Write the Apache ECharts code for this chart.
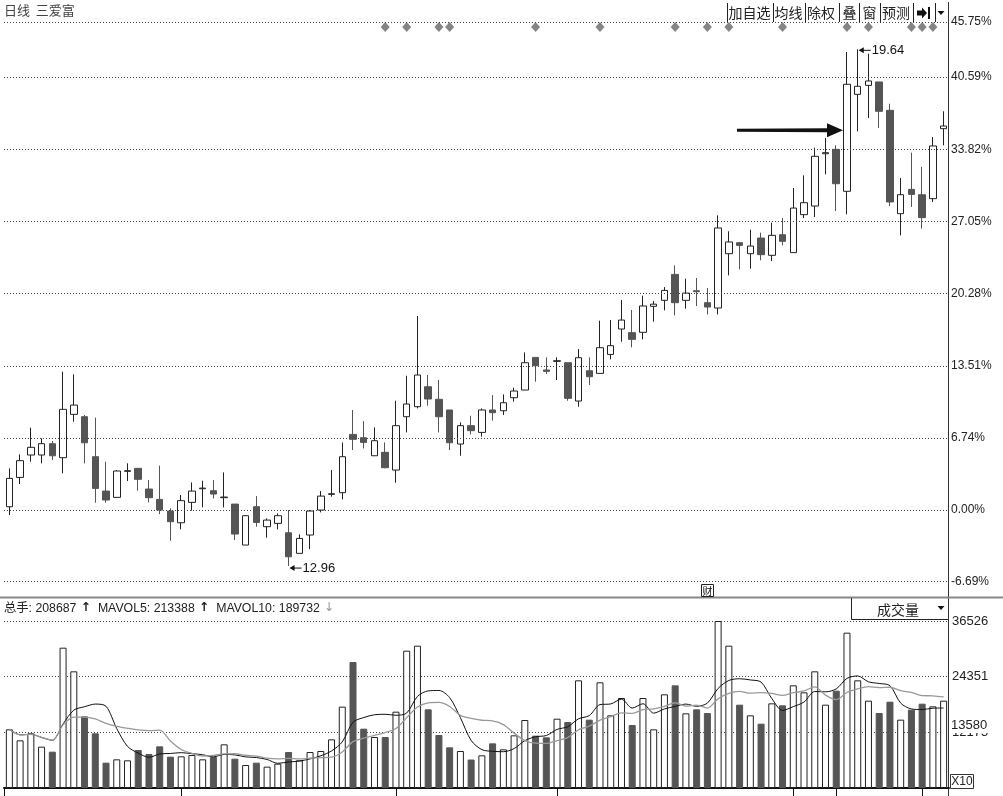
<!DOCTYPE html>
<html>
<head>
<meta charset="utf-8">
<title>日线 三爱富</title>
<script src="https://cdn.jsdelivr.net/npm/echarts@6/dist/echarts.min.js"></script>
<style>
  html, body { margin: 0; padding: 0; background: #fff; }
  #main { width: 1003px; height: 796px; }
</style>
</head>
<body>
<div id="main"></div>
<script>
// 日K线，按涨跌幅(%)读取：[开, 收, 低, 高]
const kline = [
  [0.31, 2.97, -0.47, 3.91], [3.06, 4.63, 2.44, 5.22], [5.16, 5.88, 4.53, 7.72], [5.16, 6.22, 4.38, 6.72],
  [6.22, 5.09, 4.69, 6.47], [4.91, 9.44, 3.44, 12.97], [8.97, 9.84, 8.28, 12.72], [8.75, 6.31, 4.38, 8.91],
  [5.00, 2.03, 0.69, 8.66], [1.78, 0.94, 0.69, 4.53], [1.19, 3.66, 1.16, 3.75], [3.63, 3.69, 2.72, 4.38],
  [3.91, 2.88, 1.81, 3.91], [1.97, 1.16, 0.72, 2.81], [1.00, 0.00, -0.38, 4.16], [-0.09, -1.09, -2.88, 0.16],
  [-1.19, 0.88, -1.81, 1.41], [0.72, 1.78, -0.06, 2.59], [2.00, 2.06, 0.25, 2.75], [1.81, 1.50, 1.09, 2.81],
  [1.16, 1.22, 0.25, 3.53], [0.56, -2.25, -2.81, 0.56], [-3.28, -0.53, -3.28, -0.47], [0.31, -1.16, -1.56, 1.31],
  [-1.56, -0.94, -2.59, -0.78], [-1.25, -0.53, -1.81, -0.31], [-2.13, -4.38, -5.25, 0.00], [-4.06, -2.66, -4.06, -2.28],
  [-2.34, -0.09, -3.66, 0.00], [0.00, 1.31, -0.22, 1.78], [1.47, 1.53, 1.25, 3.75], [1.63, 5.00, 1.00, 6.34],
  [7.09, 6.63, 5.63, 9.38], [6.78, 6.34, 5.78, 8.34], [5.09, 6.50, 5.09, 7.75], [5.41, 3.97, 3.91, 6.34],
  [3.75, 7.91, 2.56, 10.25], [8.75, 9.94, 7.28, 12.59], [9.69, 12.66, 9.53, 18.19], [11.56, 10.41, 9.78, 12.66],
  [10.38, 8.75, 7.28, 12.19], [9.38, 6.31, 5.63, 9.38], [6.19, 7.91, 5.09, 8.22], [7.91, 7.44, 7.09, 8.84],
  [7.28, 9.38, 6.88, 9.53], [9.38, 9.13, 8.38, 10.78], [9.31, 10.06, 8.91, 10.84], [10.53, 11.16, 10.16, 11.47],
  [11.25, 13.81, 11.25, 14.78], [14.31, 13.53, 12.03, 14.31], [13.13, 13.00, 12.75, 14.31], [13.94, 14.00, 12.19, 14.31],
  [13.81, 10.47, 10.25, 13.81], [10.22, 14.28, 9.69, 15.09], [13.06, 12.50, 11.72, 14.31], [12.81, 15.22, 12.81, 17.75],
  [14.59, 15.41, 14.13, 17.81], [16.97, 17.81, 15.78, 19.70], [16.63, 16.00, 15.25, 18.75], [16.66, 19.13, 16.00, 20.10],
  [19.10, 19.30, 17.66, 19.60], [19.66, 20.59, 18.72, 20.90], [22.09, 19.44, 18.25, 22.94], [19.66, 20.34, 18.88, 21.69],
  [20.56, 20.47, 19.13, 21.75], [19.44, 19.03, 18.34, 20.81], [18.94, 26.44, 18.34, 27.63], [24.03, 25.13, 22.00, 26.13],
  [25.06, 24.81, 22.56, 25.13], [24.03, 24.75, 22.63, 26.28], [25.50, 23.94, 23.41, 26.00], [23.88, 25.75, 23.34, 26.94],
  [25.81, 25.19, 24.81, 27.38], [24.13, 28.31, 24.13, 30.19], [27.69, 28.81, 27.38, 31.38], [28.50, 33.16, 27.47, 33.97],
  [33.40, 33.50, 31.47, 34.88], [33.81, 30.59, 28.03, 34.19], [29.88, 39.91, 27.72, 42.94], [38.97, 39.72, 35.50, 43.19],
  [39.81, 40.22, 36.75, 42.78], [40.13, 37.38, 35.81, 40.13], [37.47, 28.88, 28.50, 38.09], [27.78, 29.56, 25.75, 31.13],
  [30.06, 29.59, 28.41, 33.50], [29.56, 27.41, 26.38, 32.16], [29.19, 34.13, 28.88, 34.97], [35.75, 36.00, 34.19, 37.38]
]

// 成交量 (X10 手)
const volumes = [
  12830, 10425, 11956, 9040, 7946, 30691, 25515, 15674, 11956, 5540,
  6269, 6051, 8311, 7436, 9113, 6853, 6926, 7217, 6269, 6780,
  9550, 6415, 5030, 5540, 4666, 5322, 7873, 6051, 7873, 8092,
  10643, 17788, 27556, 12976, 11154, 11154, 16694, 30035, 31128, 17204,
  11591, 8894, 8092, 6230, 7144, 9769, 8456, 11518, 14872, 11445,
  11081, 15163, 14434, 23547, 14945, 23109, 15892, 19683, 13778, 19683,
  12830, 20485, 22453, 16330, 17204, 16403, 36526, 31128, 18225, 15892,
  14070, 18517, 18079, 22453, 20922, 25515, 18225, 21287, 33972, 23547,
  19100, 16403, 18881, 14945, 17132, 18444, 17861, 19100
]

const categories = kline.map((_, i) => i)

// 右侧涨跌幅刻度
const priceTicks = [45.75, 40.59, 33.82, 27.05, 20.28, 13.51, 6.74, 0.00, -6.69]
const priceMin = -8.15
const priceMax = 45.75
const volMax = 36526
const volFloatLabel = 13580

// 信息地雷所在K线
const mineIndex = [35, 37, 40, 41, 49, 55, 62, 65, 67, 72, 78, 80, 84, 85, 86]
const mineRow = 45.28
// 底部分隔刻度
const periodTicks = [16, 36, 51, 73, 77, 85]

const lowIndex = 26, lowLabel = '12.96'
const highIndex = 79, highLabel = '19.64'
const arrowIndex = 78, arrowLevel = 35.6

const headerText = {
  total: '208687',
  ma5: '213388',
  ma10: '189732'
}

function movingAvg(n) {
  return volumes.map((v, i) => {
    const s = volumes.slice(Math.max(0, i - n + 1), i + 1)
    return Math.round(s.reduce((a, b) => a + b, 0) / s.length)
  })
}

const numFont = '"Liberation Sans", Arial, sans-serif'
const cjkFont = '"Noto Sans CJK SC", sans-serif'
const dotted = { color: '#444', type: [1, 2], width: 1 }

const chart = echarts.init(document.getElementById('main'))

const option = {
  animation: false,
  backgroundColor: '#fff',
  grid: [
    { left: 4, right: 54, top: 22, height: 575 },
    { left: 4, right: 54, top: 621, height: 167 }
  ],
  xAxis: [
    {
      type: 'category', gridIndex: 0, data: categories, boundaryGap: true,
      axisLine: { show: false }, axisTick: { show: false }, axisLabel: { show: false }, splitLine: { show: false }
    },
    {
      type: 'category', gridIndex: 1, data: categories, boundaryGap: true,
      axisLine: { show: true, lineStyle: { color: '#111', width: 2 } },
      axisTick: {
        show: true, alignWithLabel: true, length: 8, lineStyle: { color: '#111' },
        interval: (i) => periodTicks.includes(i)
      },
      axisLabel: { show: false }, splitLine: { show: false }
    }
  ],
  yAxis: [
    {
      type: 'value', gridIndex: 0, min: priceMin, max: priceMax, position: 'right',
      axisLine: { show: false }, axisTick: { show: false }, axisLabel: { show: false }, splitLine: { show: false }
    },
    {
      type: 'value', gridIndex: 1, min: 0, max: volMax, interval: volMax / 3, position: 'right',
      axisLine: { show: false }, axisTick: { show: false },
      splitLine: { show: true, lineStyle: dotted },
      axisLabel: {
        margin: 3, fontSize: 13, color: '#222', fontFamily: numFont,
        showMaxLabel: true, showMinLabel: false,
        formatter: v => String(Math.round(v))
      }
    }
  ],
  series: [
    {
      name: 'K线', type: 'candlestick', xAxisIndex: 0, yAxisIndex: 0,
      data: kline, barWidth: 7,
      itemStyle: { color: '#fff', color0: '#555', borderColor: '#222', borderColor0: '#555', borderWidth: 1 },
      markLine: {
        silent: true, symbol: 'none', animation: false,
        lineStyle: dotted,
        label: {
          position: 'end', distance: 2, color: '#222', fontSize: 12, fontFamily: numFont,
          formatter: p => p.value.toFixed(2) + '%'
        },
        data: priceTicks.map(v => ({ yAxis: v }))
      }
    },
    {
      name: '地雷', type: 'scatter', xAxisIndex: 0, yAxisIndex: 0,
      symbol: 'diamond', symbolSize: [9, 10],
      itemStyle: { color: '#666' },
      data: mineIndex.map(i => [i, mineRow])
    },
    {
      name: '成交量', type: 'bar', xAxisIndex: 1, yAxisIndex: 1, barWidth: 7,
      data: volumes.map((v, i) => {
        const up = kline[i][1] >= kline[i][0]
        return {
          value: v,
          itemStyle: up
            ? { color: '#fff', borderColor: '#222', borderWidth: 1 }
            : { color: '#555', borderColor: '#555', borderWidth: 1 }
        }
      })
    },
    {
      name: 'MAVOL5', type: 'line', xAxisIndex: 1, yAxisIndex: 1,
      data: movingAvg(5), symbol: 'none', smooth: 0.3,
      lineStyle: { color: '#111', width: 1 }
    },
    {
      name: 'MAVOL10', type: 'line', xAxisIndex: 1, yAxisIndex: 1,
      data: movingAvg(10), symbol: 'none', smooth: 0.3,
      lineStyle: { color: '#999', width: 1.3 }
    }
  ]
}

chart.setOption(option)

// 顶部工具栏
const toolSeps = [727, 773, 805, 839, 859, 880, 913, 935]
const toolTexts = [['加自选', 749.5], ['均线', 788.5], ['除权', 821], ['叠', 849.5], ['窗', 869.5], ['预测', 896]]

const graphics = []
graphics.push({
  type: 'text', left: 4, top: 4,
  style: { text: '日线  三爱富', fontSize: 13, fill: '#444', fontFamily: cjkFont }
})
toolSeps.forEach(x => graphics.push({
  type: 'line', shape: { x1: x + 0.5, y1: 3, x2: x + 0.5, y2: 22 }, style: { stroke: '#222', lineWidth: 1 }
}))
toolTexts.forEach(([t, x]) => graphics.push({
  type: 'text', x: x, y: 13,
  style: { text: t, fontSize: 14, fill: '#222', fontFamily: cjkFont, align: 'center', verticalAlign: 'middle' }
}))
// 跳转图标和下拉
graphics.push({
  type: 'polygon',
  shape: { points: [[917, 10.5], [922, 10.5], [922, 7.5], [927, 13], [922, 18.5], [922, 15.5], [917, 15.5]] },
  style: { fill: '#111' }
})
graphics.push({ type: 'rect', shape: { x: 928, y: 7, width: 2, height: 12 }, style: { fill: '#111' } })
graphics.push({ type: 'polygon', shape: { points: [[937.5, 11], [944.5, 11], [941, 15]] }, style: { fill: '#111' } })

// 分隔线
graphics.push({ type: 'line', shape: { x1: 948.5, y1: 2, x2: 948.5, y2: 796 }, style: { stroke: '#333', lineWidth: 1 } })
graphics.push({ type: 'line', shape: { x1: 0, y1: 597.5, x2: 1003, y2: 597.5 }, style: { stroke: '#888', lineWidth: 2 } })
graphics.push({ type: 'line', shape: { x1: 4.5, y1: 788, x2: 4.5, y2: 796 }, style: { stroke: '#111', lineWidth: 1 } })

// 财 图标
graphics.push({ type: 'rect', shape: { x: 701.5, y: 584.5, width: 12, height: 12 }, style: { fill: '#fff', stroke: '#222', lineWidth: 1 } })
graphics.push({
  type: 'text', x: 707.5, y: 591,
  style: { text: '财', fontSize: 10, fill: '#111', fontFamily: cjkFont, align: 'center', verticalAlign: 'middle' }
})

// 成交量标题
graphics.push({
  type: 'text', left: 4, top: 602,
  style: {
    text: '{a|总手: ' + headerText.total + '}{u| ↑}{a|  MAVOL5: ' + headerText.ma5 + '}{u| ↑}{a|  MAVOL10: ' + headerText.ma10 + '}{d| ↓}',
    rich: {
      a: { fontSize: 12.3, fill: '#222', fontFamily: numFont + ', ' + cjkFont },
      u: { fontSize: 12.3, fill: '#222', fontWeight: 'bold', fontFamily: '"DejaVu Sans", sans-serif' },
      d: { fontSize: 12.3, fill: '#999', fontFamily: '"DejaVu Sans", sans-serif' }
    }
  }
})
graphics.push({ type: 'line', shape: { x1: 851.5, y1: 598, x2: 851.5, y2: 619.5 }, style: { stroke: '#222', lineWidth: 1 } })
graphics.push({ type: 'line', shape: { x1: 851.5, y1: 619.5, x2: 948, y2: 619.5 }, style: { stroke: '#222', lineWidth: 1 } })
graphics.push({
  type: 'text', x: 898, y: 610,
  style: { text: '成交量', fontSize: 14, fill: '#222', fontFamily: cjkFont, align: 'center', verticalAlign: 'middle' }
})
graphics.push({ type: 'polygon', shape: { points: [[937.5, 606], [944.5, 606], [941, 610]] }, style: { fill: '#111' } })

// 浮动量值标签 (盖住下方刻度)
const pFloat = chart.convertToPixel({ xAxisIndex: 1, yAxisIndex: 1 }, [0, volFloatLabel])
graphics.push({
  type: 'text', x: 951, y: pFloat[1], z: 100,
  style: {
    text: String(volFloatLabel), fontSize: 13, fill: '#222', fontFamily: numFont, verticalAlign: 'middle',
    backgroundColor: '#fff', padding: [1, 3, 0, 0]
  }
})

// X10
graphics.push({ type: 'rect', shape: { x: 950.5, y: 774.5, width: 23, height: 14 }, style: { fill: '#fff', stroke: '#333', lineWidth: 1 } })
graphics.push({
  type: 'text', x: 962, y: 782,
  style: { text: 'X10', fontSize: 12, fill: '#222', fontFamily: numFont, align: 'center', verticalAlign: 'middle' }
})

// 最低、最高标注
const pLow = chart.convertToPixel({ xAxisIndex: 0, yAxisIndex: 0 }, [lowIndex, kline[lowIndex][2]])
const ly = pLow[1] + 2
graphics.push({ type: 'line', shape: { x1: pLow[0] + 2, y1: ly, x2: pLow[0] + 13, y2: ly }, style: { stroke: '#111', lineWidth: 1 } })
graphics.push({ type: 'polygon', shape: { points: [[pLow[0] + 1, ly], [pLow[0] + 6, ly - 3], [pLow[0] + 6, ly + 3]] }, style: { fill: '#111' } })
graphics.push({
  type: 'text', x: pLow[0] + 14, y: ly,
  style: { text: lowLabel, fontSize: 13, fill: '#111', fontFamily: numFont, verticalAlign: 'middle' }
})

const pHigh = chart.convertToPixel({ xAxisIndex: 0, yAxisIndex: 0 }, [highIndex, kline[highIndex][3]])
const hy = pHigh[1] + 1
graphics.push({ type: 'line', shape: { x1: pHigh[0] + 2, y1: hy, x2: pHigh[0] + 13, y2: hy }, style: { stroke: '#111', lineWidth: 1 } })
graphics.push({ type: 'polygon', shape: { points: [[pHigh[0] + 1, hy], [pHigh[0] + 6, hy - 3], [pHigh[0] + 6, hy + 3]] }, style: { fill: '#111' } })
graphics.push({
  type: 'text', x: pHigh[0] + 14, y: hy,
  style: { text: highLabel, fontSize: 13, fill: '#111', fontFamily: numFont, verticalAlign: 'middle' }
})

// 箭头标注
const pArrow = chart.convertToPixel({ xAxisIndex: 0, yAxisIndex: 0 }, [arrowIndex, arrowLevel])
const tipX = pArrow[0] - 4, tipY = pArrow[1]
graphics.push({
  type: 'polygon',
  shape: { points: [[tipX - 106, tipY - 1.5], [tipX - 15, tipY - 2], [tipX - 15, tipY + 2], [tipX - 106, tipY + 1.5]] },
  style: { fill: '#111' }
})
graphics.push({
  type: 'polygon',
  shape: { points: [[tipX, tipY], [tipX - 16, tipY - 7], [tipX - 16, tipY + 7]] },
  style: { fill: '#111' }
})

chart.setOption({ graphic: graphics })
</script>
</body>
</html>
